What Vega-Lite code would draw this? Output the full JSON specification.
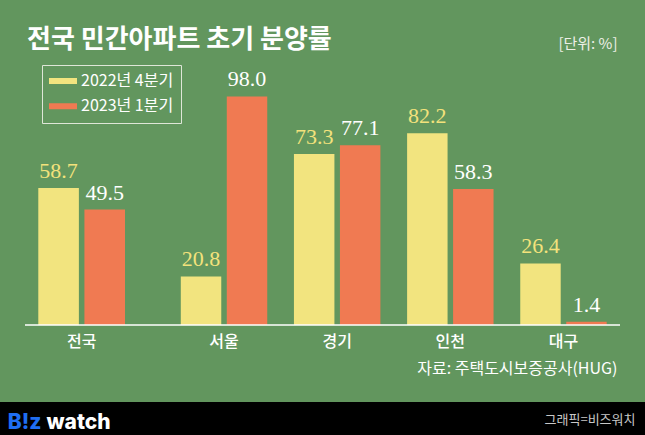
{
  "$schema": "https://vega.github.io/schema/vega-lite/v6.json",
  "width": 645,
  "height": 402,
  "autosize": {"type": "none"},
  "padding": {"left": 0, "top": 0, "right": 0, "bottom": 33},
  "background": "#000000",
  "config": {
    "view": {"fill": "#62965e", "stroke": null},
    "font": "Noto Sans CJK KR",
    "legend": {
      "strokeColor": "#dfe6d8",
      "padding": 7,
      "symbolType": "M-1,-0.21L1,-0.21L1,0.21L-1,0.21Z",
      "symbolSize": 784,
      "symbolStrokeWidth": 0,
      "labelFontSize": 16,
      "labelFontWeight": "normal",
      "labelColor": "#ffffff",
      "labelFont": "Noto Sans CJK KR",
      "labelOffset": 4,
      "clipHeight": 18,
      "rowPadding": 7.3
    }
  },
  "title": {
    "text": "전국 민간아파트 초기 분양률",
    "anchor": "start",
    "frame": "group",
    "orient": "top",
    "offset": -74,
    "dx": 27,
    "baseline": "alphabetic",
    "fontSize": 26,
    "fontWeight": "bold",
    "color": "#ffffff",
    "font": "Noto Sans CJK KR"
  },
  "datasets": {
    "rates": [
      {"region": "전국", "series": "2022년 4분기", "value": 58.7},
      {"region": "전국", "series": "2023년 1분기", "value": 49.5},
      {"region": "서울", "series": "2022년 4분기", "value": 20.8},
      {"region": "서울", "series": "2023년 1분기", "value": 98.0},
      {"region": "경기", "series": "2022년 4분기", "value": 73.3},
      {"region": "경기", "series": "2023년 1분기", "value": 77.1},
      {"region": "인천", "series": "2022년 4분기", "value": 82.2},
      {"region": "인천", "series": "2023년 1분기", "value": 58.3},
      {"region": "대구", "series": "2022년 4분기", "value": 26.4},
      {"region": "대구", "series": "2023년 1분기", "value": 1.4}
    ]
  },
  "layer": [
    {
      "data": {"name": "rates"},
      "transform": [{"filter": "datum.region === '전국'"}],
      "encoding": {
        "x": {
          "field": "region",
          "type": "nominal",
          "sort": null,
          "scale": {"domain": ["전국"], "range": [38.3, 125], "paddingInner": 0.236, "paddingOuter": 0},
          "axis": {
            "orient": "bottom",
            "offset": -77,
            "domain": false,
            "ticks": false,
            "tickSize": 0,
            "grid": false,
            "labelAngle": 0,
            "labelPadding": 16,
            "labelBaseline": "middle",
            "labelColor": "#ffffff",
            "labelFontSize": 16,
            "labelFontWeight": 500,
            "labelFont": "Noto Sans CJK KR",
            "title": "B!z",
            "titleX": 7.3,
            "titleY": 103.3,
            "titleAlign": "left",
            "titleBaseline": "alphabetic",
            "titleColor": "#1f6ef2",
            "titleFont": "Inter",
            "titleFontSize": 21,
            "titleFontWeight": 800
          }
        },
        "xOffset": {
          "field": "series",
          "type": "nominal",
          "scale": {"domain": ["2022년 4분기", "2023년 1분기"], "paddingInner": 0.12, "paddingOuter": 0}
        },
        "y": {
          "field": "value",
          "type": "quantitative",
          "scale": {"domain": [0, 100], "range": [325, 91.8], "nice": false, "zero": true},
          "axis": {
            "orient": "left",
            "domain": false,
            "ticks": false,
            "labels": false,
            "grid": false,
            "title": "그래픽=비즈워치",
            "titleAngle": 0,
            "titleX": 635,
            "titleY": 419,
            "titleAlign": "right",
            "titleBaseline": "middle",
            "titleColor": "#c8c8c8",
            "titleFont": "Noto Sans CJK KR",
            "titleFontSize": 13,
            "titleFontWeight": "normal"
          }
        }
      },
      "layer": [
        {
          "mark": {"type": "bar"},
          "encoding": {
            "color": {
              "field": "series",
              "type": "nominal",
              "scale": {"domain": ["2022년 4분기", "2023년 1분기"], "range": ["#f2e47f", "#f07a52"]},
              "legend": {"orient": "none", "legendX": 42, "legendY": 65, "title": null}
            }
          }
        },
        {
          "mark": {"type": "text", "font": "Liberation Serif", "fontSize": 22, "baseline": "alphabetic", "dy": -10},
          "encoding": {
            "text": {"field": "value", "type": "quantitative", "format": ".1f"},
            "color": {"condition": {"test": "datum.series === '2022년 4분기'", "value": "#f3e27c"}, "value": "#ffffff"}
          }
        }
      ]
    },
    {
      "data": {"name": "rates"},
      "transform": [{"filter": "datum.region !== '전국'"}],
      "encoding": {
        "x": {
          "field": "region",
          "type": "nominal",
          "sort": null,
          "scale": {"domain": ["서울", "경기", "인천", "대구"], "range": [180.8, 606.7], "paddingInner": 0.236, "paddingOuter": 0},
          "axis": {
            "orient": "bottom",
            "offset": -77,
            "domain": false,
            "ticks": false,
            "tickSize": 0,
            "grid": false,
            "labelAngle": 0,
            "labelPadding": 16,
            "labelBaseline": "middle",
            "labelColor": "#ffffff",
            "labelFontSize": 16,
            "labelFontWeight": 500,
            "labelFont": "Noto Sans CJK KR",
            "title": "자료: 주택도시보증공사(HUG)",
            "titleX": 617,
            "titleY": 43,
            "titleAlign": "right",
            "titleBaseline": "middle",
            "titleColor": "#ffffff",
            "titleFont": "Noto Sans CJK KR",
            "titleFontSize": 16,
            "titleFontWeight": "normal"
          }
        },
        "xOffset": {
          "field": "series",
          "type": "nominal",
          "scale": {"domain": ["2022년 4분기", "2023년 1분기"], "paddingInner": 0.12, "paddingOuter": 0}
        },
        "y": {
          "field": "value",
          "type": "quantitative",
          "axis": {
            "orient": "right",
            "domain": false,
            "ticks": false,
            "labels": false,
            "grid": false,
            "title": "[단위: %]",
            "titleAngle": 0,
            "titleX": -28,
            "titleY": 43,
            "titleAlign": "right",
            "titleBaseline": "middle",
            "titleColor": "#eef0e8",
            "titleFont": "Noto Sans CJK KR",
            "titleFontSize": 15,
            "titleFontWeight": "normal"
          }
        }
      },
      "layer": [
        {
          "mark": {"type": "bar"},
          "encoding": {
            "color": {
              "field": "series",
              "type": "nominal",
              "scale": {"domain": ["2022년 4분기", "2023년 1분기"], "range": ["#f2e47f", "#f07a52"]},
              "legend": {"orient": "none", "legendX": 42, "legendY": 65, "title": null}
            }
          }
        },
        {
          "mark": {"type": "text", "font": "Liberation Serif", "fontSize": 22, "baseline": "alphabetic", "dy": -10},
          "encoding": {
            "text": {"field": "value", "type": "quantitative", "format": ".1f"},
            "color": {"condition": {"test": "datum.series === '2022년 4분기'", "value": "#f3e27c"}, "value": "#ffffff"}
          }
        }
      ]
    },
    {
      "data": {"values": [{}]},
      "mark": {"type": "rule", "color": "#ffffff", "strokeWidth": 1.5},
      "encoding": {
        "x": {
          "datum": 0,
          "type": "quantitative",
          "scale": {"domain": [0, 1], "range": [25, 620], "nice": false, "zero": false},
          "axis": {
            "orient": "bottom",
            "offset": -77,
            "domain": false,
            "ticks": false,
            "labels": false,
            "grid": false,
            "title": "watch",
            "titleX": 46,
            "titleY": 103.3,
            "titleAlign": "left",
            "titleBaseline": "alphabetic",
            "titleColor": "#ffffff",
            "titleFont": "Inter",
            "titleFontSize": 21,
            "titleFontWeight": 800
          }
        },
        "x2": {"datum": 1},
        "y": {"datum": 0, "type": "quantitative", "axis": null}
      }
    }
  ],
  "resolve": {
    "scale": {"x": "independent", "xOffset": "independent"},
    "axis": {"x": "independent", "y": "independent"}
  }
}
